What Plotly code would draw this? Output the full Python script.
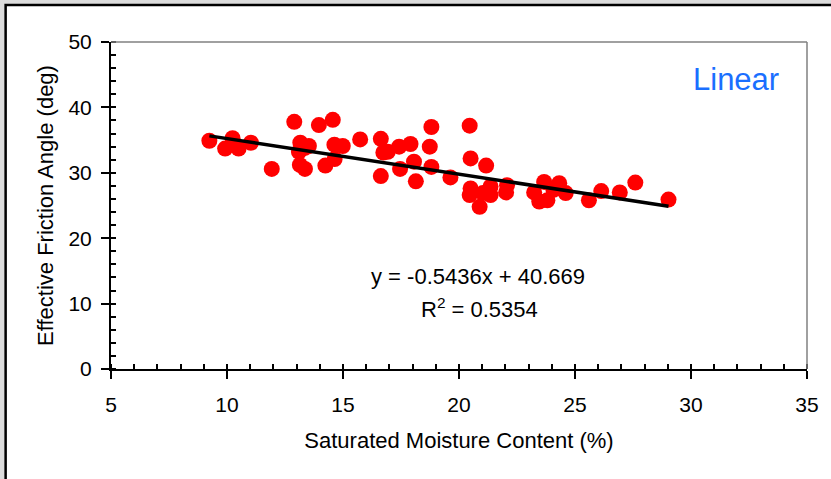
import numpy as np
import plotly.graph_objects as go

moisture = [9.24, 9.92, 10.24, 10.50, 11.03, 11.93, 12.90, 13.16, 13.10, 13.14,
            13.36, 13.36, 13.53, 13.96, 14.24, 14.56, 14.63, 14.64, 14.99, 15.74,
            16.63, 16.63, 16.74, 16.93, 17.42, 17.46, 17.91, 18.06, 18.14, 18.74,
            18.81, 18.81, 19.63, 20.46, 20.50, 20.50, 20.46, 20.89, 21.17, 21.03,
            21.36, 21.36, 22.07, 22.03, 23.24, 23.46, 23.67, 23.81, 24.07, 24.32,
            24.60, 25.60, 26.13, 26.93, 27.60, 29.03]
friction = [34.9, 33.7, 35.3, 33.7, 34.6, 30.6, 37.8, 34.6, 33.2, 31.2,
            33.8, 30.6, 34.1, 37.3, 31.1, 38.1, 34.3, 32.1, 34.1, 35.1,
            35.2, 29.5, 33.1, 33.2, 34.0, 30.6, 34.4, 31.7, 28.7, 34.0,
            37.0, 30.9, 29.3, 37.2, 32.2, 27.6, 26.6, 24.8, 31.1, 26.9,
            27.9, 26.6, 28.1, 27.0, 27.0, 25.6, 28.6, 25.8, 27.4, 28.4,
            26.9, 25.8, 27.2, 27.0, 28.5, 25.9]

slope = -0.5436
intercept = 40.669
r_squared = 0.5354

x_ticks = [5, 10, 15, 20, 25, 30, 35]
y_ticks = [0, 10, 20, 30, 40, 50]

font_family = "Liberation Sans, Arial, sans-serif"

fit_x = np.array([min(moisture), max(moisture)])
fit_y = slope * fit_x + intercept

fig = go.Figure()
fig.add_trace(go.Scatter(x=moisture, y=friction, mode="markers",
                         marker=dict(color="#ff0000", size=16, line=dict(width=0)),
                         showlegend=False, hoverinfo="x+y"))
fig.add_trace(go.Scatter(x=fit_x, y=fit_y, mode="lines",
                         line=dict(color="black", width=3.5),
                         showlegend=False, hoverinfo="skip"))

# outer chart frame
fig.add_shape(type="rect", xref="paper", yref="paper",
              x0=-0.1514, x1=1.04, y0=-0.40, y1=1.113,
              line=dict(color="black", width=2.5), fillcolor="white", layer="below")
# gray top / right plot borders
fig.add_shape(type="line", xref="paper", yref="paper", x0=0, x1=1, y0=1, y1=1,
              line=dict(color="#808080", width=1.5))
fig.add_shape(type="line", xref="paper", yref="paper", x0=1, x1=1, y0=0, y1=1,
              line=dict(color="#808080", width=1.5))

fig.add_annotation(x=20.8, y=14.2, xref="x", yref="y", showarrow=False,
                   text=f"y = {slope}x + {intercept}",
                   font=dict(family=font_family, size=22, color="black"))
fig.add_annotation(x=20.9, y=9.3, xref="x", yref="y", showarrow=False,
                   text=f"R<sup>2</sup> = {r_squared}",
                   font=dict(family=font_family, size=22, color="black"))
fig.add_annotation(x=31.96, y=44.2, xref="x", yref="y", showarrow=False,
                   text="Linear",
                   font=dict(family=font_family, size=31, color="#1a6fff"))

fig.update_xaxes(range=[5, 35], tickvals=x_ticks, showgrid=False, zeroline=False,
                 showline=True, linecolor="black", linewidth=2,
                 ticks="outside", ticklen=8, tickwidth=1.5, tickcolor="black",
                 ticklabelstandoff=8,
                 minor=dict(dtick=1, ticks="inside", ticklen=5, tickwidth=1.5,
                            tickcolor="black", showgrid=False),
                 tickfont=dict(family=font_family, size=21, color="black"),
                 title=dict(text="Saturated Moisture Content (%)", standoff=17,
                            font=dict(family=font_family, size=22, color="black")))
fig.update_yaxes(range=[0, 50], tickvals=y_ticks, showgrid=False, zeroline=False,
                 showline=True, linecolor="black", linewidth=2,
                 ticks="outside", ticklen=8, tickwidth=1.5, tickcolor="black",
                 ticklabelstandoff=5,
                 minor=dict(dtick=2, ticks="inside", ticklen=5, tickwidth=1.5,
                            tickcolor="black", showgrid=False),
                 tickfont=dict(family=font_family, size=21, color="black"),
                 title=dict(text="Effective Friction Angle (deg)", standoff=9,
                            font=dict(family=font_family, size=22, color="black")))

fig.update_layout(width=831, height=479,
                  margin=dict(l=111, r=20, t=42, b=110),
                  paper_bgcolor="#dcdcdc", plot_bgcolor="white",
                  font=dict(family=font_family))

fig.write_html("out.html", config={"displayModeBar": False},
               post_script="document.body.style.margin='0';")
